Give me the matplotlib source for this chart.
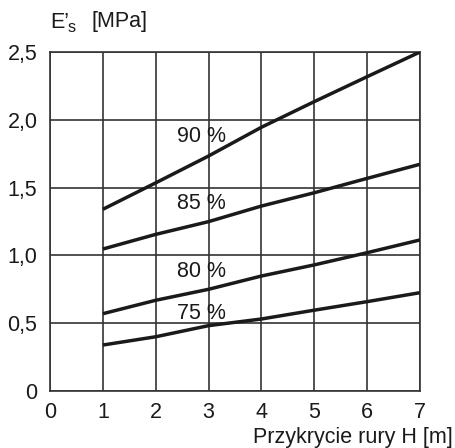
import matplotlib
matplotlib.use("Agg")
import matplotlib.pyplot as plt

plt.rcParams['font.family'] = ['Liberation Sans', 'DejaVu Sans']

H = [1, 2, 3, 4, 5, 6, 7]
e90 = [1.34, 1.535, 1.733, 1.945, 2.134, 2.318, 2.5]
e85 = [1.047, 1.155, 1.249, 1.364, 1.462, 1.568, 1.672]
e80 = [0.57, 0.669, 0.75, 0.848, 0.93, 1.02, 1.114]
e75 = [0.339, 0.40, 0.482, 0.531, 0.596, 0.659, 0.725]
series_labels = ["90 %", "85 %", "80 %", "75 %"]
label_pos_y = [1.88, 1.386, 0.878, 0.568]
label_pos_x = 2.87

x_ticks = [0, 1, 2, 3, 4, 5, 6, 7]
x_tick_labels = ["0", "1", "2", "3", "4", "5", "6", "7"]
y_ticks = [0, 0.5, 1.0, 1.5, 2.0, 2.5]
y_tick_labels = ["0", "0,5", "1,0", "1,5", "2,0", "2,5"]

fs = 15.5
dark = "#1a1a1a"

fig = plt.figure(figsize=(4.56, 4.48), dpi=100)
ax = fig.add_axes([50/456, 57/448, 370/456, 339/448])
ax.set_xlim(0, 7)
ax.set_ylim(0, 2.5)

for s in [e90, e85, e80, e75]:
    ax.plot(H, s, color=dark, lw=2.5, solid_capstyle='butt', zorder=3)

for lab, yy in zip(series_labels, label_pos_y):
    ax.text(label_pos_x, yy, lab, fontsize=fs, ha='center', va='center', color=dark, zorder=4)

ax.set_xticks(x_ticks)
ax.set_xticklabels(x_tick_labels, fontsize=fs, color=dark)
ax.set_yticks(y_ticks)
ax.set_yticklabels(y_tick_labels, fontsize=fs, color=dark)
ax.tick_params(axis='x', length=0, pad=8)
ax.tick_params(axis='y', length=0, pad=9)
ax.grid(True, color="#333333", lw=1.2, zorder=1)
for sp in ax.spines.values():
    sp.set_color("#333333")
    sp.set_linewidth(1.2)

fig.text(453/456, 1 - 437/448, "Przykrycie rury H [m]", fontsize=fs, ha='right', va='center', color=dark)
fig.text(50/456, 1 - 22/448, "E’", fontsize=fs, ha='left', va='center', color=dark)
fig.text(68/456, 1 - 27/448, "s", fontsize=fs*0.75, ha='left', va='center', color=dark)
fig.text(92/456, 1 - 22/448, "[MPa]", fontsize=fs, ha='left', va='center', color=dark)

fig.savefig("out.png", dpi=100, facecolor='white')
